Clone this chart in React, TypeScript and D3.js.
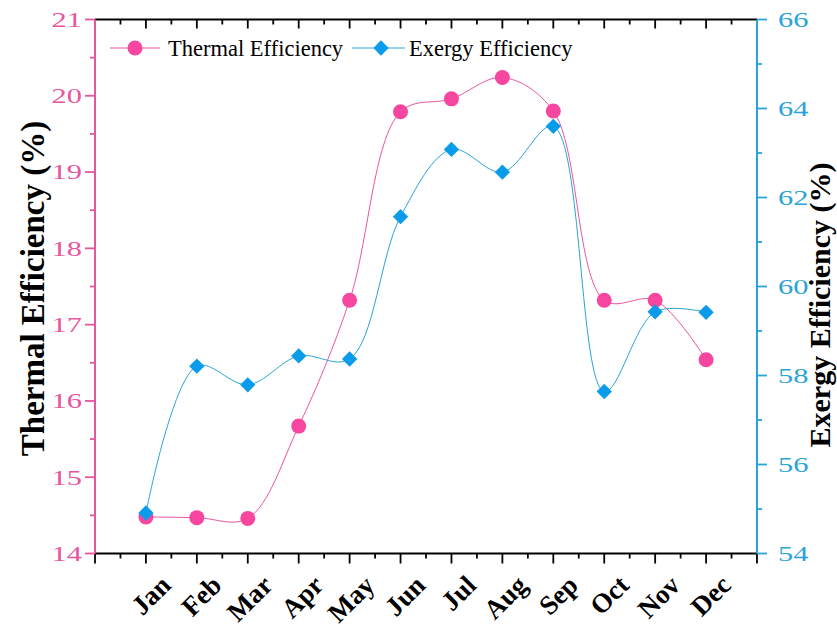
import * as d3 from "d3";
import { useEffect, useRef } from "react";

const months = ["Jan", "Feb", "Mar", "Apr", "May", "Jun", "Jul", "Aug", "Sep", "Oct", "Nov", "Dec"];
const thermal = [14.48, 14.47, 14.46, 15.67, 17.32, 19.79, 19.96, 20.24, 19.8, 17.32, 17.32, 16.54];
const exergy = [54.91, 58.21, 57.79, 58.44, 58.37, 61.57, 63.08, 62.57, 63.6, 57.64, 59.43, 59.42];
const leftTicks = [14, 15, 16, 17, 18, 19, 20, 21];
const rightTicks = [54, 56, 58, 60, 62, 64, 66];

const PINK = "#e8559f";
const PINK_MARK = "#f6469f";
const BLUE = "#2aa4d8";
const BLUE_MARK = "#0a9ceb";
const FONT = "'Liberation Serif', 'Times New Roman', serif";

function EfficiencyChart() {
    const ref = useRef<SVGSVGElement>(null);

    useEffect(() => {
        const svg = d3.select(ref.current);
        svg.selectAll("*").remove();

        const width = 837;
        const height = 630;
        const margin = { top: 19.5, right: 80, bottom: 76.5, left: 95 };
        const plotW = width - margin.left - margin.right;
        const plotH = height - margin.top - margin.bottom;

        svg.attr("width", width).attr("height", height);
        const g = svg.append("g").attr("transform", `translate(${margin.left},${margin.top})`);

        // scales
        const x = d3.scaleLinear().domain([0, 13]).range([0, plotW]);
        const yL = d3.scaleLinear().domain([14, 21]).range([plotH, 0]);
        const yR = d3.scaleLinear().domain([54, 66]).range([plotH, 0]);

        const half = d3.range(0, 13.01, 0.5);

        // bottom axis (black, outward ticks)
        const bottom = g.append("g").attr("transform", `translate(0,${plotH})`);
        bottom.append("line").attr("x1", 0).attr("x2", plotW).attr("stroke", "#000").attr("stroke-width", 2);
        half.forEach(v => {
            const major = Number.isInteger(v);
            bottom.append("line")
                .attr("x1", x(v)).attr("x2", x(v))
                .attr("y1", 0).attr("y2", major ? 10 : 5)
                .attr("stroke", "#000").attr("stroke-width", 1.8);
        });
        months.forEach((m, i) => {
            bottom.append("text")
                .attr("transform", `translate(${x(i + 1) + 13},${20}) rotate(-45)`)
                .attr("text-anchor", "end")
                .attr("dy", "0.7em")
                .style("font-family", FONT)
                .style("font-weight", "bold")
                .style("font-size", "27px")
                .text(m);
        });

        // top axis (black, inward ticks)
        const top = g.append("g");
        top.append("line").attr("x1", 0).attr("x2", plotW).attr("stroke", "#000").attr("stroke-width", 2);
        half.forEach(v => {
            const major = Number.isInteger(v);
            top.append("line")
                .attr("x1", x(v)).attr("x2", x(v))
                .attr("y1", 0).attr("y2", major ? 9 : 5)
                .attr("stroke", "#000").attr("stroke-width", 1.8);
        });

        // left axis (pink)
        const left = g.append("g");
        left.append("line").attr("y1", 0).attr("y2", plotH).attr("stroke", PINK).attr("stroke-width", 2);
        d3.range(14, 21.01, 0.5).forEach(v => {
            const major = Number.isInteger(v);
            left.append("line")
                .attr("x1", major ? -10 : -5).attr("x2", 0)
                .attr("y1", yL(v)).attr("y2", yL(v))
                .attr("stroke", PINK).attr("stroke-width", 1.8);
        });
        leftTicks.forEach(v => {
            left.append("text")
                .attr("transform", `translate(-13,${yL(v)}) scale(1.45,1)`)
                .attr("dy", "0.35em")
                .attr("text-anchor", "end")
                .attr("fill", PINK)
                .style("font-family", FONT)
                .style("font-size", "21px")
                .text(v);
        });

        // right axis (blue)
        const right = g.append("g").attr("transform", `translate(${plotW},0)`);
        right.append("line").attr("y1", 0).attr("y2", plotH).attr("stroke", BLUE).attr("stroke-width", 2);
        d3.range(54, 66.01, 1).forEach(v => {
            const major = v % 2 === 0;
            right.append("line")
                .attr("x1", 0).attr("x2", major ? 10 : 5)
                .attr("y1", yR(v)).attr("y2", yR(v))
                .attr("stroke", BLUE).attr("stroke-width", 1.8);
        });
        rightTicks.forEach(v => {
            right.append("text")
                .attr("transform", `translate(21,${yR(v)}) scale(1.45,1)`)
                .attr("dy", "0.35em")
                .attr("fill", BLUE)
                .style("font-family", FONT)
                .style("font-size", "21px")
                .text(v);
        });

        // axis titles
        svg.append("text")
            .attr("transform", `translate(44,${margin.top + plotH / 2 + 2}) rotate(-90)`)
            .attr("text-anchor", "middle")
            .style("font-family", FONT)
            .style("font-weight", "bold")
            .style("font-size", "33px")
            .text("Thermal Efficiency (%)");

        svg.append("text")
            .attr("transform", `translate(830,305) rotate(-90)`)
            .attr("text-anchor", "middle")
            .style("font-family", FONT)
            .style("font-weight", "bold")
            .style("font-size", "30px")
            .text("Exergy Efficiency (%)");

        // lines
        const lineL = d3.line<number>().x((_, i) => x(i + 1)).y(d => yL(d)).curve(d3.curveCatmullRom.alpha(0.5));
        const lineR = d3.line<number>().x((_, i) => x(i + 1)).y(d => yR(d)).curve(d3.curveCatmullRom.alpha(0.5));

        g.append("path").datum(thermal).attr("d", lineL).attr("fill", "none").attr("stroke", PINK).attr("stroke-width", 1);
        g.append("path").datum(exergy).attr("d", lineR).attr("fill", "none").attr("stroke", BLUE).attr("stroke-width", 1);

        const diamond = d3.symbol().type(d3.symbolDiamond2).size(150);

        g.selectAll("circle.th")
            .data(thermal)
            .enter()
            .append("circle")
            .attr("class", "th")
            .attr("cx", (_, i) => x(i + 1))
            .attr("cy", d => yL(d))
            .attr("r", 7.5)
            .attr("fill", PINK_MARK);

        g.selectAll("path.ex")
            .data(exergy)
            .enter()
            .append("path")
            .attr("class", "ex")
            .attr("d", diamond)
            .attr("transform", (d, i) => `translate(${x(i + 1)},${yR(d)})`)
            .attr("fill", BLUE_MARK);

        // legend
        const legend = svg.append("g").attr("transform", `translate(0,48)`);
        legend.append("line").attr("x1", 110).attr("x2", 160).attr("stroke", PINK).attr("stroke-width", 1);
        legend.append("circle").attr("cx", 135).attr("cy", 0).attr("r", 7.5).attr("fill", PINK_MARK);
        legend.append("text")
            .attr("x", 168).attr("y", 0).attr("dy", "0.35em")
            .style("font-family", FONT).style("font-size", "22.5px")
            .text("Thermal Efficiency");

        legend.append("line").attr("x1", 352).attr("x2", 405).attr("stroke", BLUE).attr("stroke-width", 1);
        legend.append("path").attr("d", diamond).attr("transform", "translate(381,0)").attr("fill", BLUE_MARK);
        legend.append("text")
            .attr("x", 409).attr("y", 0).attr("dy", "0.35em")
            .style("font-family", FONT).style("font-size", "22.5px")
            .text("Exergy Efficiency");
    }, []);

    return <svg ref={ref} style={{ position: "absolute", left: 0, top: 0, background: "#fff" }} />;
}

export default function App() {
    return <EfficiencyChart />;
}
